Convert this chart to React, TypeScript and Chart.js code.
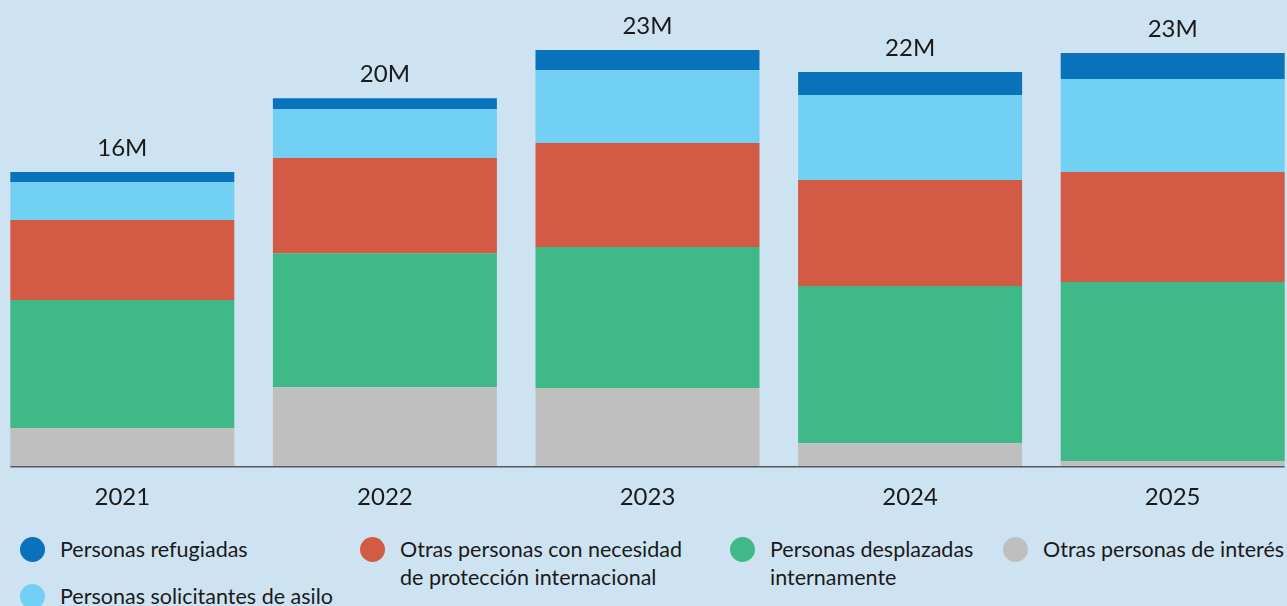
import React, { useEffect, useRef } from "react";
import { Chart, registerables } from "chart.js";

Chart.register(...registerables);

const years = ["2021", "2022", "2023", "2024", "2025"];
const refugiadas = [0.55, 0.6, 1.1, 1.26, 1.43];
const solicitantesAsilo = [2.09, 2.69, 4.01, 4.67, 5.11];
const otrasNecesidad = [4.4, 5.22, 5.71, 5.82, 6.04];
const desplazadas = [7.03, 7.36, 7.75, 8.63, 9.84];
const otrasInteres = [2.09, 4.34, 4.29, 1.26, 0.27];
const totalLabels = ["16M", "20M", "23M", "22M", "23M"];

const seriesLabels = [
  "Otras personas de interés",
  "Personas desplazadas\ninternamente",
  "Otras personas con necesidad\nde protección internacional",
  "Personas solicitantes de asilo",
  "Personas refugiadas",
];
const seriesColors = ["#bfbfbf", "#40b988", "#d35b45", "#72d0f5", "#0a72bb"];
const seriesValues = [otrasInteres, desplazadas, otrasNecesidad, solicitantesAsilo, refugiadas];

// legend placement: [series index, circle left, first line top]
const legendPlacement: [number, number, number][] = [
  [4, 20, 535],
  [2, 360, 535],
  [1, 730, 535],
  [0, 1003, 535],
  [3, 20, 582],
];

const FONT = "Lato, 'Open Sans', sans-serif";

export default function App() {
  const canvasRef = useRef<HTMLCanvasElement | null>(null);

  useEffect(() => {
    if (!canvasRef.current) return;
    const totalsPlugin = {
      id: "totals",
      afterDatasetsDraw(chart: any) {
        const ctx = chart.ctx;
        const n = chart.data.datasets.length;
        const topMeta = chart.getDatasetMeta(n - 1);
        ctx.save();
        ctx.font = `24px ${FONT}`;
        ctx.fillStyle = "#1a1a1a";
        ctx.textAlign = "center";
        ctx.textBaseline = "alphabetic";
        topMeta.data.forEach((bar: any, i: number) => {
          ctx.fillText(totalLabels[i], bar.x, bar.y - 16);
        });
        // baseline axis line from first bar to last bar
        const bottomMeta = chart.getDatasetMeta(0);
        const first: any = bottomMeta.data[0];
        const last: any = bottomMeta.data[bottomMeta.data.length - 1];
        const y = chart.chartArea.bottom + 0.5;
        ctx.strokeStyle = "#555a60";
        ctx.lineWidth = 1.5;
        ctx.beginPath();
        ctx.moveTo(first.x - first.width / 2, y);
        ctx.lineTo(last.x + last.width / 2, y);
        ctx.stroke();
        ctx.restore();
      },
    };

    const chart = new Chart(canvasRef.current, {
      type: "bar",
      data: {
        labels: years,
        datasets: seriesValues.map((vals, i) => ({
          label: seriesLabels[i],
          data: vals,
          backgroundColor: seriesColors[i],
          borderWidth: 0,
          categoryPercentage: 1,
          barPercentage: 0.853,
        })),
      },
      options: {
        animation: false,
        responsive: false,
        maintainAspectRatio: false,
        layout: { padding: 0 },
        plugins: {
          legend: { display: false },
          tooltip: { enabled: false },
        },
        scales: {
          x: {
            stacked: true,
            grid: { display: false },
            border: { display: false },
            ticks: {
              color: "#1a1a1a",
              font: { family: FONT, size: 24 },
              padding: 9,
            },
          },
          y: {
            stacked: true,
            display: false,
            min: 0,
            max: 25.6,
          },
        },
      },
      plugins: [totalsPlugin],
    });
    return () => chart.destroy();
  }, []);

  return (
    <div
      style={{
        position: "fixed",
        left: 0,
        top: 0,
        width: 1287,
        height: 606,
        background: "#cee3f1",
        overflow: "hidden",
        fontFamily: FONT,
      }}
    >
      <div style={{ position: "absolute", left: -9, top: 0, width: 1313, height: 521 }}>
        <canvas ref={canvasRef} width={1313} height={521} style={{ display: "block" }} />
      </div>
      {legendPlacement.map(([si, left, top]) => (
        <div
          key={si}
          style={{ position: "absolute", left, top, display: "flex", alignItems: "flex-start" }}
        >
          <span
            style={{
              width: 25,
              height: 25,
              borderRadius: "50%",
              background: seriesColors[si],
              marginTop: 1.5,
              flex: "0 0 auto",
            }}
          />
          <span
            style={{
              marginLeft: 15,
              fontSize: 21.5,
              lineHeight: "28px",
              color: "#1a1a1a",
              whiteSpace: "pre-line",
            }}
          >
            {seriesLabels[si]}
          </span>
        </div>
      ))}
    </div>
  );
}
